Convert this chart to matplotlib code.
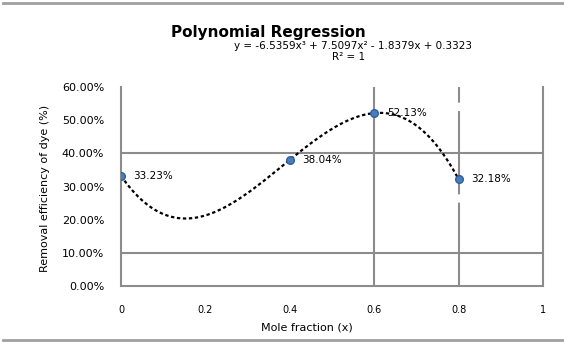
import numpy as np
import matplotlib
matplotlib.use("Agg")
import matplotlib.pyplot as plt
from matplotlib.ticker import FuncFormatter

# data
x_vals = [0.0, 0.4, 0.6, 0.8]
y_vals = [0.3323, 0.3804, 0.5213, 0.3218]
x_ticks = [0, 0.2, 0.4, 0.6, 0.8, 1]
x_tick_labels = ["0", "0.2", "0.4", "0.6", "0.8", "1"]
y_ticks = [0.0, 0.1, 0.2, 0.3, 0.4, 0.5, 0.6]
h_lines = [0.1, 0.4]
v_lines = [0.6, 0.8]
title = "Polynomial Regression"
x_label = "Mole fraction (x)"
y_label = "Removal efficiency of dye (%)"

fig = plt.figure(figsize=(5.64, 3.42), dpi=100)
ax = fig.add_axes([0.2145, 0.1637, 0.7483, 0.5819])

grey = "#8c8c8c"
for h in h_lines:
    ax.axhline(h, color=grey, lw=1.5, zorder=1)
ax.axvline(v_lines[0], color=grey, lw=1.5, zorder=1)
ax.axvline(v_lines[1], color=grey, lw=1.5, zorder=1, dashes=(40, 4))

coef = np.polyfit(x_vals, y_vals, 3)
xs = np.linspace(min(x_vals), max(x_vals), 300)
ax.plot(xs, np.polyval(coef, xs), color="black", lw=1.6, ls=(0, (1.5, 1.2)), zorder=3)
ax.plot(x_vals, y_vals, "o", color="#4a7ebb", ms=5.5, mec="#2f5f9e", zorder=4)

for xv, yv in zip(x_vals, y_vals):
    ax.annotate(f"{yv*100:.2f}%", (xv, yv), xytext=(9, 0), textcoords="offset points",
                fontsize=7.5, va="center", ha="left", zorder=5)

ax.set_xlim(0, 1)
ax.set_ylim(0, 0.6)
ax.set_xticks(x_ticks)
ax.set_xticklabels(x_tick_labels, fontsize=7)
ax.set_yticks(y_ticks)
ax.yaxis.set_major_formatter(FuncFormatter(lambda v, p: f"{v*100:.2f}%"))
ax.tick_params(axis="y", labelsize=8, length=0, pad=12)
ax.tick_params(axis="x", length=0, pad=14)

for s in ["left", "right", "bottom"]:
    ax.spines[s].set_color(grey)
    ax.spines[s].set_linewidth(1.5)
ax.spines["top"].set_visible(False)

a, b, c, d = coef
sign = lambda v: "+" if v >= 0 else "-"
eq = f"y = {a:.4f}x\u00b3 {sign(b)} {abs(b):.4f}x\u00b2 {sign(c)} {abs(c):.4f}x {sign(d)} {abs(d):.4f}"
fig.text(268/564, 1 - 32/342, title, fontsize=11, fontweight="bold", ha="center", va="center")
fig.text(353/564, 1 - 46/342, eq, fontsize=7.5, ha="center", va="center")
fig.text(349/564, 1 - 57/342, "R\u00b2 = 1", fontsize=7.5, ha="center", va="center")

fig.text(307/564, 1 - 327/342, x_label, fontsize=8, ha="center", va="center")
fig.text(45/564, 1 - 188/342, y_label, fontsize=8, rotation=90, ha="center", va="center")

# chart border lines
fig.add_artist(plt.Line2D([0.005, 1], [1 - 3/342, 1 - 3/342], color="#a0a0a0", lw=2, transform=fig.transFigure))
fig.add_artist(plt.Line2D([0.005, 1], [1 - 340/342, 1 - 340/342], color="#a0a0a0", lw=2, transform=fig.transFigure))

fig.savefig("out.png", dpi=100)
